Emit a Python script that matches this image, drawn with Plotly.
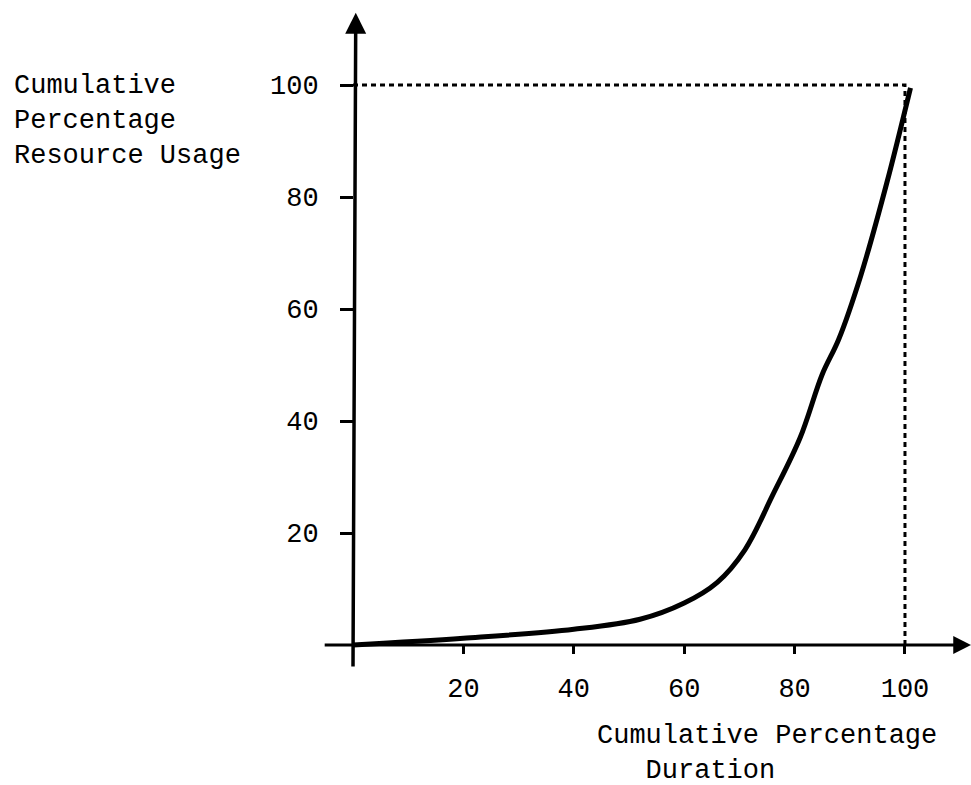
import plotly.graph_objects as go

# ---- data ----
duration_pct = [0, 20, 40, 52, 60, 66, 71, 76, 81, 85, 88, 92, 96.7, 101]
resource_pct = [0, 1.2, 2.8, 4.6, 7.5, 11.2, 17.0, 26.7, 37, 48.3, 54.6, 66, 82.5, 99.5]
tick_vals = [20, 40, 60, 80, 100]
tick_text = ["20", "40", "60", "80", "100"]
ref_x = [0, 100, 100]
ref_y = [100, 100, 0]

# ---- layout constants ----
W, H = 971, 785
X_RANGE = [-63.95, 111.96]
Y_RANGE = [-25.0, 115.18]
FONT = "Liberation Mono, Courier New, monospace"

y_axis_pos = (0 - X_RANGE[0]) / (X_RANGE[1] - X_RANGE[0])
x_axis_pos = (0 - Y_RANGE[0]) / (Y_RANGE[1] - Y_RANGE[0])

fig = go.Figure()

# dotted reference lines
fig.add_trace(go.Scatter(x=ref_x, y=ref_y, mode="lines",
                         line=dict(color="black", width=3, dash="5px,4px"),
                         hoverinfo="skip", showlegend=False))
# curve
fig.add_trace(go.Scatter(x=duration_pct, y=resource_pct, mode="lines",
                         line=dict(color="black", width=5, shape="spline", smoothing=1.0),
                         showlegend=False))

# axis lines with arrowheads
fig.add_annotation(x=112.0, y=0, ax=-5.4, ay=0, xref="x", yref="y", axref="x", ayref="y",
                   text="", showarrow=True, arrowhead=2, arrowsize=1.2, arrowwidth=3,
                   arrowcolor="black", standoff=0, startstandoff=0)
fig.add_annotation(x=0.5, y=112.9, ax=0, ay=-4.1, xref="x", yref="y", axref="x", ayref="y",
                   text="", showarrow=True, arrowhead=2, arrowsize=1.2, arrowwidth=3.5,
                   arrowcolor="black", standoff=0, startstandoff=0)

# axis titles
fig.add_annotation(x=12 / W, y=1 - 121 / H, xref="paper", yref="paper",
                   xanchor="left", yanchor="middle", align="left", showarrow=False,
                   text="Cumulative<br>Percentage<br>Resource Usage",
                   font=dict(family=FONT, size=27, color="black"))
fig.add_annotation(x=595 / W, y=1 - 753 / H, xref="paper", yref="paper",
                   xanchor="left", yanchor="middle", align="left", showarrow=False,
                   text="Cumulative Percentage<br>\u00a0\u00a0\u00a0Duration",
                   font=dict(family=FONT, size=27, color="black"))

fig.update_layout(
    width=W, height=H,
    margin=dict(l=0, r=0, t=0, b=0),
    paper_bgcolor="white", plot_bgcolor="white",
    showlegend=False,
    xaxis=dict(range=X_RANGE, domain=[0, 1], anchor="free", position=x_axis_pos,
               tickvals=tick_vals, ticktext=tick_text, ticks="outside", ticklen=8,
               tickwidth=3, tickcolor="black", showline=False, showgrid=False,
               zeroline=False, ticklabelstandoff=11,
               tickfont=dict(family=FONT, size=27, color="black")),
    yaxis=dict(range=Y_RANGE, domain=[0, 1], anchor="free", position=y_axis_pos,
               tickvals=tick_vals, ticktext=tick_text, ticks="outside", ticklen=13,
               tickwidth=3, tickcolor="black", showline=False, showgrid=False,
               zeroline=False, ticklabelstandoff=16,
               tickfont=dict(family=FONT, size=27, color="black")),
)

fig.write_html("out.html", config={"displayModeBar": False},
               post_script="document.body.style.margin='0';document.body.style.overflow='hidden';")
